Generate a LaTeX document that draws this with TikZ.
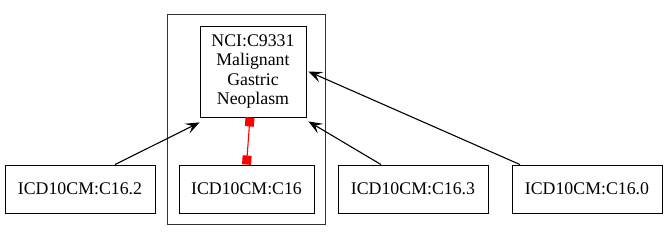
\documentclass[tikz,border=0pt]{standalone}
\usepackage{fontspec}
\setmainfont{Liberation Serif}
\usetikzlibrary{arrows.meta,fit}

\tikzset{
  term/.style={draw, line width=0.9pt, inner sep=0pt, minimum height=48pt,
    font=\fontsize{17.8}{19.5}\selectfont, align=center},
  isa/.style={line width=1.1pt, -{Stealth[length=14pt,width=11pt,inset=6pt]}},
  mapped/.style={red, line width=1.1pt, {Square[length=9pt,width=9pt]}-{Square[length=9pt,width=9pt]}}
}

\begin{document}
\begin{tikzpicture}[x=1pt, y=-1pt]
  \useasboundingbox (0,0) rectangle (667,240);

  % concept and its codes
  \node[term, minimum width=106pt, minimum height=91pt] (nci) at (253,71.5)
    {NCI:C9331\\Malignant\\Gastric\\Neoplasm};
  \node[term, minimum width=135pt] (c16)  at (246.5,189) {ICD10CM:C16};
  \node[term, minimum width=150pt] (c162) at (80,189)    {ICD10CM:C16.2};
  \node[term, minimum width=150pt] (c163) at (413,189)   {ICD10CM:C16.3};
  \node[term, minimum width=150pt] (c160) at (587,189)   {ICD10CM:C16.0};

  % cluster box
  \node[draw=black!80, line width=1.6pt, inner sep=11pt, fit=(nci)(c16)] (grp) {};

  % links
  \draw[isa] ([xshift=35pt]c162.north) -- ([yshift=-5pt]nci.south west);
  \draw[mapped] ([xshift=-3pt]nci.south) -- (c16.north);
  \draw[isa] ([xshift=-32pt]c163.north) -- ([xshift=2pt,yshift=-4pt]nci.south east);
  \draw[isa] ([xshift=-67pt]c160.north) -- ([xshift=2pt]nci.east);
\end{tikzpicture}
\end{document}
